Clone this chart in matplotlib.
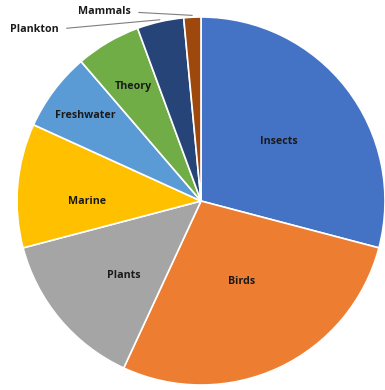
import numpy as np
import matplotlib.pyplot as plt

categories = ['Insects', 'Birds', 'Plants', 'Marine', 'Freshwater', 'Theory', 'Plankton', 'Mammals']
values = [29.1, 27.8, 14.0, 10.9, 6.9, 5.7, 4.1, 1.5]
colors = ['#4472C4', '#ED7D31', '#A5A5A5', '#FFC000', '#5B9BD5', '#70AD47', '#264478', '#9E480E']

# label centres in pixels (from top-left), converted to pie units below
label_px = {'Insects': (279, 142), 'Birds': (242, 281), 'Plants': (124, 275),
            'Marine': (87, 202), 'Freshwater': (85, 116), 'Theory': (133, 86),
            'Plankton': (34, 29), 'Mammals': (104, 12)}
cx, cy, R = 201, 201, 184

def to_pie(p):
    return (p[0] - cx) / R, (cy - p[1]) / R

fig = plt.figure(figsize=(3.85, 3.9), dpi=100)
ax = fig.add_axes([(cx - R)/385, (390 - cy - R)/390, 2*R/385, 2*R/390])

wedges, _ = ax.pie(values, colors=colors, startangle=90, counterclock=False, radius=1,
                   wedgeprops=dict(edgecolor='white', linewidth=1.2))
ax.set_xlim(-1, 1)
ax.set_ylim(-1, 1)
ax.set_aspect('equal')
ax.axis('off')

font = dict(family='Open Sans', fontsize=7.7, fontweight='bold', color='#1a1a1a')
for w, name in zip(wedges, categories):
    tx, ty = to_pie(label_px[name])
    if name in ('Plankton', 'Mammals'):
        # small slices: label outside with a leader line
        mid = np.deg2rad((w.theta1 + w.theta2) / 2)
        ax.annotate(name, xy=(1.01*np.cos(mid), 1.01*np.sin(mid)), xytext=(tx, ty),
                    ha='center', va='center', annotation_clip=False,
                    arrowprops=dict(arrowstyle='-', color='#7f7f7f', lw=0.8,
                                    shrinkA=4, shrinkB=0, relpos=(1.0, 0.5)),
                    **font)
    else:
        ax.text(tx, ty, name, ha='center', va='center', **font)

plt.savefig('out.png', dpi=100)
